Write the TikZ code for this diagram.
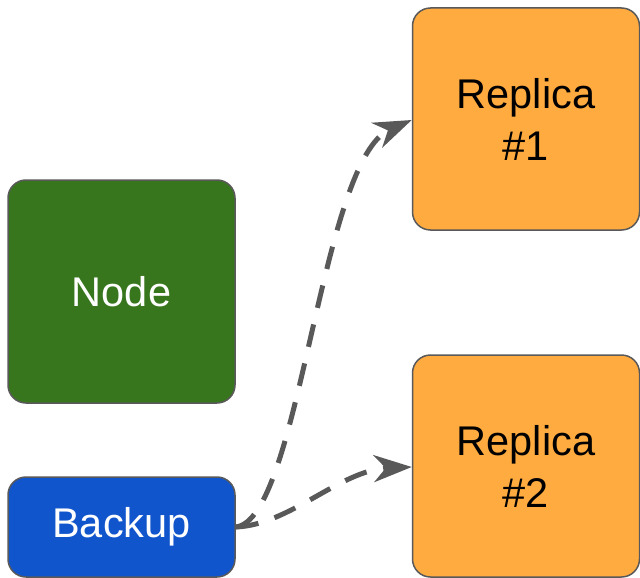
\documentclass[tikz,border=0pt]{standalone}
\usepackage{fontspec}
\setmainfont{Liberation Sans}
\usetikzlibrary{arrows.meta}
\definecolor{nodegreen}{HTML}{38761D}
\definecolor{backblue}{HTML}{1155CC}
\definecolor{repor}{HTML}{FFAB40}
\definecolor{edgegray}{HTML}{595959}
\tikzset{
  box/.style={draw=edgegray, line width=1.5pt, rounded corners=18pt, minimum width=227pt, inner sep=0pt, align=center, font=\fontsize{41.5}{52}\selectfont},
  conn/.style={draw=edgegray, line width=5pt, dash pattern=on 23pt off 17pt, -{Stealth[length=38pt,width=27pt,inset=12pt]}}
}
\begin{document}
\begin{tikzpicture}[x=1pt,y=-1pt]
\useasboundingbox (0,0) rectangle (640,578);
\node[box, fill=nodegreen, text=white, minimum height=223pt] (node) at (121.5,291.5) {Node};
\node[box, fill=backblue, text=white, minimum height=100pt] (backup) at (121.5,527) {Backup};
\node[box, fill=repor, text=black, minimum height=222pt] (r1) at (526,119) {Replica\\\#1};
\node[box, fill=repor, text=black, minimum height=222pt] (r2) at (526,466) {Replica\\\#2};
\draw[conn] (backup.east) .. controls (300,520) and (320,160) .. (r1.west |- 0,120);
\draw[conn] (backup.east) .. controls (290,525) and (340,470) .. (r2.west |- 0,467);
\end{tikzpicture}
\end{document}
